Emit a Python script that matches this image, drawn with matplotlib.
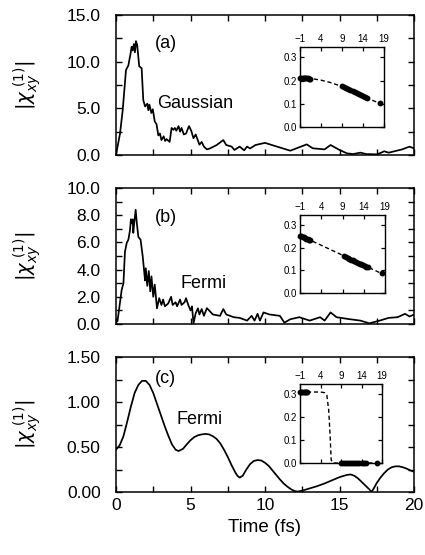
import matplotlib
matplotlib.use("Agg")
import matplotlib.pyplot as plt
from matplotlib.ticker import MultipleLocator, FormatStrFormatter

plt.rcParams['font.family'] = ['Liberation Sans', 'DejaVu Sans']
plt.rcParams['mathtext.fontset'] = 'dejavusans'

# ---------------- main curves ----------------
ta = [0, 0.27, 0.45, 0.67, 0.83, 0.98, 1.05, 1.12, 1.2, 1.27, 1.34, 1.42, 1.56, 1.72, 1.83, 1.95, 2.1, 2.17,
      2.24, 2.37, 2.47, 2.6, 2.72, 2.84, 2.95, 3.05, 3.2, 3.3, 3.4, 3.6, 3.73, 3.85, 3.95, 4.05, 4.2, 4.3,
      4.4, 4.55, 4.7, 4.9, 5.05, 5.2, 5.35, 5.6, 5.75, 5.9, 6.1, 6.3, 6.76, 7.2, 7.4, 7.76, 7.95, 8.3,
      8.6, 8.8, 9.0, 9.36, 10.0, 10.8, 11.7, 12.8, 13.2, 14.0, 14.4, 15.0, 15.5, 15.9, 16.4, 16.8, 17.5,
      17.8, 18.0, 18.3, 19.2, 19.7, 20.0]
va = [0, 2.3, 4.8, 9.1, 9.6, 10.9, 11.6, 11.2, 11.9, 11.0, 12.2, 11.8, 9.5, 9.3, 5.9, 5.2, 5.5, 4.8,
      5.4, 4.5, 4.9, 3.6, 3.3, 2.1, 2.3, 1.6, 2.0, 1.5, 1.7, 1.4, 2.9, 2.7, 2.9, 2.6, 3.1, 2.5,
      2.9, 2.2, 2.3, 3.1, 2.6, 1.8, 2.2, 1.1, 1.4, 0.9, 0.6, 0.7, 1.07, 1.6, 1.07, 0.9, 0.54, 0.9,
      0.5, 0.9, 0.7, 1.07, 1.3, 0.9, 0.46, 1.14, 0.72, 0.6, 1.07, 0.54, 0.18, 0.1, 0.25, 0.1, 0.07,
      0.25, 0.4, 0.25, 0.6, 0.9, 0.7]

tb = [0, 0.1, 0.38, 0.5, 0.6, 0.72, 0.83, 0.94, 1.0, 1.07, 1.12, 1.16, 1.23, 1.32, 1.39, 1.5, 1.65, 1.79,
      1.88, 1.95, 2.0, 2.1, 2.2, 2.3, 2.38, 2.5, 2.6, 2.75, 2.9, 3.05, 3.16, 3.28, 3.5, 3.7, 3.8, 4.0,
      4.1, 4.3, 4.4, 4.6, 4.7, 4.85, 5.0, 5.1, 5.2, 5.35, 5.5, 5.6, 5.75, 5.9, 6.1, 6.5, 6.98, 7.2, 7.4,
      7.9, 8.3, 8.8, 9.1, 9.3, 9.5, 9.66, 9.9, 10.3, 11.0, 11.3, 11.7, 12.3, 13.0, 13.7, 14.0, 14.4,
      14.8, 15.7, 16.4, 17.0, 17.7, 18.3, 18.9, 19.4, 19.7, 20.0]
vb = [0.3, 0.2, 2.5, 3.0, 5.3, 5.96, 6.2, 6.9, 7.7, 7.4, 7.7, 6.7, 7.5, 8.4, 7.5, 6.4, 6.2, 5.0,
      4.0, 3.2, 4.1, 2.8, 3.9, 2.4, 3.5, 2.0, 2.9, 1.15, 1.9, 1.4, 1.8, 1.3, 1.5, 2.0, 1.4, 1.6,
      1.3, 1.8, 1.4, 1.6, 1.9, 1.4, 1.0, 1.3, 0.05, 0.8, 1.15, 0.7, 1.1, 0.6, 1.17, 0.7, 0.6, 1.1, 0.7,
      0.5, 0.45, 0.25, 0.6, 0.25, 0.75, 0.25, 0.85, 0.7, 0.6, 0.1, 0.35, 0.5, 0.25, 0.5, 0.25, 0.85,
      0.5, 0.35, 0.25, 0.05, 0.25, 0.45, 0.5, 0.75, 0.55, 0.7]

tc = [0, 0.25, 0.5, 0.75, 1.0, 1.25, 1.5, 1.75, 2.0, 2.25, 2.5, 2.75, 3.0, 3.25, 3.5, 3.75, 4.0, 4.2,
      4.5, 4.75, 5.0, 5.25, 5.5, 5.75, 6.0, 6.25, 6.5, 6.75, 7.0, 7.25, 7.5, 7.75, 8.0, 8.15, 8.3, 8.5,
      8.75, 9.0, 9.25, 9.5, 9.75, 10.0, 10.25, 10.5, 10.75, 11.0, 11.25, 11.5, 11.75, 12.0, 12.2, 12.5,
      13.0, 13.5, 14.0, 14.5, 15.0, 15.5, 15.75, 16.0, 16.25, 16.5, 16.75, 17.0, 17.15, 17.3, 17.5,
      17.75, 18.0, 18.25, 18.5, 18.75, 19.0, 19.25, 19.5, 19.75, 20.0]
vc = [0.47, 0.52, 0.62, 0.78, 0.95, 1.10, 1.19, 1.235, 1.235, 1.19, 1.10, 0.98, 0.86, 0.74, 0.63, 0.53,
      0.47, 0.455, 0.48, 0.53, 0.575, 0.61, 0.63, 0.64, 0.645, 0.64, 0.62, 0.59, 0.54, 0.47, 0.39, 0.30,
      0.22, 0.18, 0.16, 0.18, 0.25, 0.31, 0.345, 0.355, 0.35, 0.325, 0.29, 0.24, 0.19, 0.14, 0.095, 0.06,
      0.03, 0.01, 0.005, 0.015, 0.04, 0.065, 0.095, 0.13, 0.165, 0.19, 0.195, 0.18, 0.15, 0.11, 0.07,
      0.03, 0.0, 0.04, 0.10, 0.16, 0.21, 0.25, 0.275, 0.285, 0.285, 0.275, 0.26, 0.24, 0.225]

# ---------------- inset data ----------------
ia_line_x = [-1, 0, 2, 4, 6, 8, 10, 12, 14, 16, 18]
ia_line_y = [0.2095, 0.21, 0.208, 0.202, 0.193, 0.181, 0.167, 0.151, 0.134, 0.117, 0.102]
ia_pts_x = [-1, -0.7, -0.4, -0.1, 0.2, 0.5, 0.8, 1.1, 1.4,
            9.0, 9.5, 10.0, 10.5, 11.0, 11.5, 12.0, 12.5, 13.0, 13.5, 14.0, 14.5, 15.0, 18.0]
ia_pts_y = [0.21, 0.21, 0.21, 0.21, 0.21, 0.21, 0.21, 0.209, 0.209,
            0.175, 0.171, 0.167, 0.163, 0.159, 0.155, 0.151, 0.147, 0.143, 0.139, 0.135, 0.131, 0.127, 0.104]

ib_line_x = [-1, 18]
ib_line_y = [0.255, 0.088]
ib_pts_x = [-1, -0.7, -0.4, -0.1, 0.2, 0.5, 0.8, 1.1, 1.4,
            9.4, 9.8, 10.2, 10.6, 11.0, 11.4, 11.8, 12.2, 12.6, 13.0, 13.4, 13.8, 14.2, 14.6, 15.0, 18.2]
ib_pts_y = [0.254, 0.252, 0.249, 0.246, 0.244, 0.241, 0.238, 0.236, 0.233,
            0.162, 0.158, 0.155, 0.151, 0.148, 0.144, 0.141, 0.137, 0.134, 0.130, 0.127, 0.123, 0.120, 0.116, 0.113, 0.088]

ic_line_x = [-1, 0, 2, 4, 5.0, 5.55, 6.0, 6.36, 6.6, 7, 10, 14, 18]
ic_line_y = [0.31, 0.31, 0.31, 0.31, 0.307, 0.296, 0.231, 0.115, 0.014, 0.0, 0.0, 0.0, 0.0]
ic_pts_x = [-1, -0.7, -0.4, -0.1, 0.2, 0.5, 0.8,
            9.0, 9.5, 10.0, 10.5, 11.0, 11.5, 12.0, 12.5, 13.0, 13.5, 14.0, 14.5, 15.0, 17.8]
ic_pts_y = [0.31, 0.31, 0.31, 0.31, 0.31, 0.31, 0.31,
            0, 0, 0, 0, 0, 0, 0, 0, 0, 0, 0, 0, 0, 0]

inset_xticks = [-1, 4, 9, 14, 19]
inset_xticklabels = ['\u22121', '4', '9', '14', '19']
inset_yticks = [0.0, 0.1, 0.2, 0.3]

W, H = 425, 555
fig = plt.figure(figsize=(W / 100, H / 100), dpi=100)

def fr(l, t, r, b):
    return [l / W, 1 - b / H, (r - l) / W, (b - t) / H]

main_specs = [
    (fr(116, 15, 414, 155), ta, va, (0, 15), 5, 2.5, '%.1f', '(a)', (2.6, 12.0), 'Gaussian', (2.75, 5.5)),
    (fr(116, 188, 414, 324), tb, vb, (0, 10), 2, 1, '%.1f', '(b)', (2.6, 7.8), 'Fermi', (4.3, 3.0)),
    (fr(116, 357, 414, 492), tc, vc, (0, 1.5), 0.5, 0.25, '%.2f', '(c)', (2.6, 1.26), 'Fermi', (4.07, 0.80)),
]
inset_specs = [
    (fr(300, 47, 384, 127), ia_line_x, ia_line_y, ia_pts_x, ia_pts_y),
    (fr(300, 215, 385, 293), ib_line_x, ib_line_y, ib_pts_x, ib_pts_y),
    (fr(300, 384, 382, 463), ic_line_x, ic_line_y, ic_pts_x, ic_pts_y),
]

for i, (rect, t, v, ylim, ymaj, ymin, fmt, lab, labpos, name, namepos) in enumerate(main_specs):
    ax = fig.add_axes(rect)
    ax.plot(t, v, color='black', lw=1.25)
    ax.set_xlim(0, 20)
    ax.set_ylim(*ylim)
    ax.xaxis.set_major_locator(MultipleLocator(5))
    ax.xaxis.set_minor_locator(MultipleLocator(2.5))
    ax.yaxis.set_major_locator(MultipleLocator(ymaj))
    ax.yaxis.set_minor_locator(MultipleLocator(ymin))
    ax.yaxis.set_major_formatter(FormatStrFormatter(fmt))
    ax.tick_params(which='both', direction='in', top=True, right=True, length=4, width=1)
    ax.tick_params(axis='y', which='major', labelsize=12.5, pad=11)
    ax.tick_params(axis='x', which='major', labelsize=12.5, pad=4)
    for s in ax.spines.values():
        s.set_linewidth(1.1)
    if i < 2:
        ax.tick_params(axis='x', labelbottom=False)
    else:
        ax.set_xlabel('Time (fs)', fontsize=13.5, labelpad=5)
    ax.set_ylabel(r'$|\chi_{xy}^{\ (1)}|$', fontsize=14)
    ax.yaxis.set_label_coords(-0.245, 0.5)
    ax.text(labpos[0], labpos[1], lab, fontsize=13, va='center', ha='left')
    ax.text(namepos[0], namepos[1], name, fontsize=13, va='center', ha='left')

for rect, lx, ly, px, py in inset_specs:
    ia = fig.add_axes(rect)
    ia.plot(lx, ly, color='black', lw=1.0, ls=(0, (3, 2)))
    ia.plot(px, py, 'o', color='black', ms=3.2, clip_on=False)
    ia.set_xlim(-1, 19)
    ia.set_ylim(0, 0.345)
    ia.set_xticks(inset_xticks)
    ia.set_xticklabels(inset_xticklabels)
    ia.set_yticks(inset_yticks)
    ia.yaxis.set_major_formatter(FormatStrFormatter('%.1f'))
    ia.tick_params(direction='in', top=True, right=True, bottom=True, left=True,
                   labeltop=True, labelbottom=False, labelsize=7, length=3, width=0.9, pad=2)
    for s in ia.spines.values():
        s.set_linewidth(1.0)

fig.savefig('out.png', dpi=100)
